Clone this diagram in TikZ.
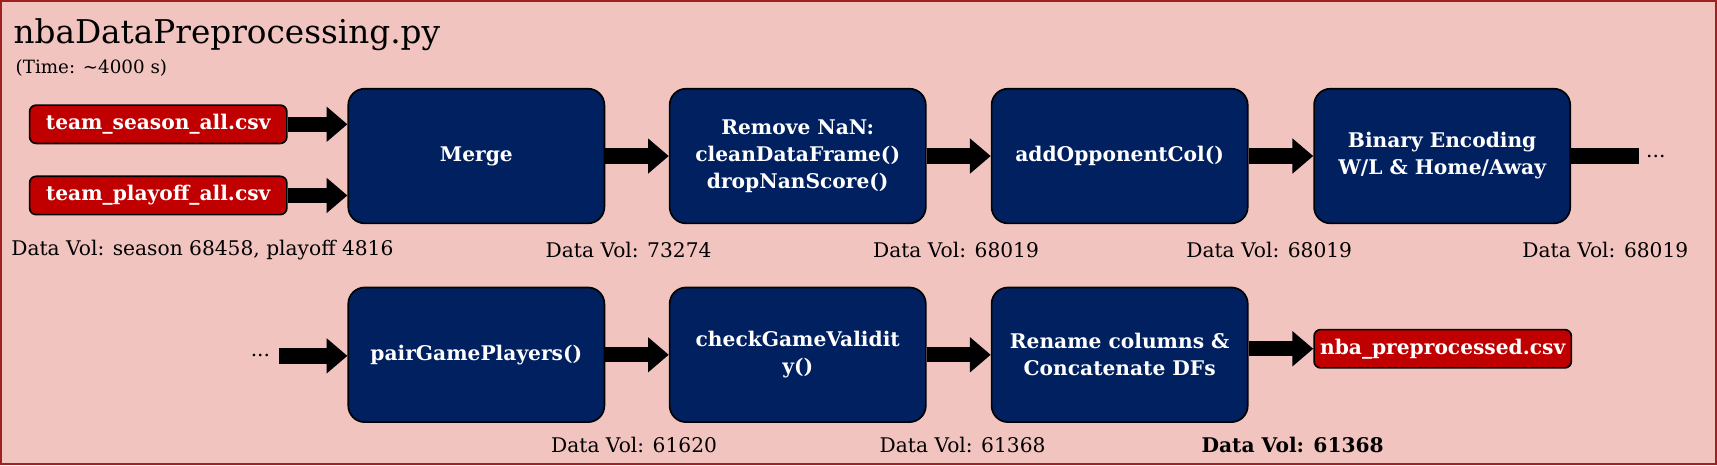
\documentclass[tikz,border=0pt]{standalone}
\usepackage{fontspec}
\setmainfont{DejaVu Serif}
\usetikzlibrary{arrows.meta}
\definecolor{bg}{HTML}{F2C4C0}
\definecolor{frame}{HTML}{A02020}
\definecolor{navy}{HTML}{002060}
\definecolor{redbox}{HTML}{C00000}
\begin{document}
\begin{tikzpicture}[x=0.02cm,y=-0.02cm,
  proc/.style={draw=black,line width=0.03cm,fill=navy,rounded corners=0.3cm,minimum width=4.68cm,minimum height=2.46cm,text=white,font=\fontsize{10.5}{14}\selectfont\bfseries,align=center,inner sep=0pt},
  file/.style={draw=black,line width=0.03cm,fill=redbox,rounded corners=0.12cm,minimum width=4.7cm,minimum height=0.7cm,text=white,font=\fontsize{10.5}{12}\selectfont\bfseries,inner sep=0pt},
  arr/.style={line width=0.28cm,-{Triangle[length=0.38cm,width=0.62cm]}},
  vol/.style={font=\fontsize{10.5}{12}\selectfont,anchor=base west,inner sep=0pt}]
\useasboundingbox (0,0) rectangle (1568,425);
\fill[bg,draw=frame,line width=0.04cm] (1,1) rectangle (1567,424);
\node[anchor=base west,inner sep=0pt,font=\fontsize{17}{20}\selectfont] (title) at (12,40) {nbaDataPreprocessing.py};
\node[anchor=base west,inner sep=0pt,font=\fontsize{9.5}{11}\selectfont] (time) at (14,67) {(Time: \textasciitilde4000 s)};
\node[file] (s) at (144.5,113.5) {team\_season\_all.csv};
\node[file] (p) at (144.5,178.5) {team\_playoff\_all.csv};
\node[proc] (m) at (435,142.5) {Merge};
\node[proc] (n) at (728.5,142.5) {Remove NaN:\\cleanDataFrame()\\dropNanScore()};
\node[proc] (o) at (1022.5,142.5) {addOpponentCol()};
\node[proc] (b) at (1317,142.5) {Binary Encoding\\W/L \& Home/Away};
\coordinate (be) at (1497,142.5);
\node[anchor=west,inner sep=0pt,font=\fontsize{10.5}{12}\selectfont] (d1) at (1503,142.5) {...};
\draw[arr] (s.east) -- (m.west |- s.east);
\draw[arr] (p.east) -- (m.west |- p.east);
\draw[arr] (m) -- (n);
\draw[arr] (n) -- (o);
\draw[arr] (o) -- (b);
\draw[line width=0.28cm] (b.east) -- (be);
\node[anchor=east,inner sep=0pt,font=\fontsize{10.5}{12}\selectfont] (d2) at (247,325) {...};
\coordinate (ds) at (255,325);
\node[proc] (g) at (435,324) {pairGamePlayers()};
\node[proc] (c) at (728.5,324) {checkGameValidit\\y()};
\node[proc] (r) at (1022.5,324) {Rename columns \&\\Concatenate DFs};
\node[file] (out) at (1317.5,318.5) {nba\_preprocessed.csv};
\draw[arr] (ds) -- (g.west |- ds);
\draw[arr] (g) -- (c);
\draw[arr] (c) -- (r);
\draw[arr] (r.east |- out) -- (out);
\node[vol] (v1) at (10,233) {Data Vol: season 68458, playoff 4816};
\node[vol] (v2) at (498,235) {Data Vol: 73274};
\node[vol] (v3) at (797,235) {Data Vol: 68019};
\node[vol] (v4) at (1083,235) {Data Vol: 68019};
\node[vol] (v5) at (1390,235) {Data Vol: 68019};
\node[vol] (v6) at (503,413) {Data Vol: 61620};
\node[vol] (v7) at (803,413) {Data Vol: 61368};
\node[vol,font=\fontsize{10.5}{12}\selectfont\bfseries] (v8) at (1097,413) {Data Vol: 61368};
\end{tikzpicture}
\end{document}
